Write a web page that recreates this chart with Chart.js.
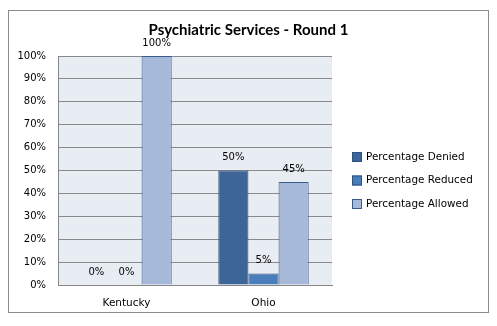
<!DOCTYPE html>
<html>
<head>
<meta charset="utf-8">
<script src="https://cdn.jsdelivr.net/npm/chart.js@4/dist/chart.umd.min.js"></script>
<style>
html,body{margin:0;padding:0;background:#fff;}
#frame{position:absolute;left:8px;top:10px;width:481px;height:303px;border:1px solid #8a8a8a;box-sizing:border-box;}
#chart{position:absolute;left:0;top:0;}
</style>
</head>
<body>
<div id="frame"><canvas id="chart" width="479" height="301"></canvas></div>
<script>
// data
const states = ["Kentucky", "Ohio"]
const denied = [0, 50]
const reduced = [0, 5]
const allowed = [100, 45]
const yTicks = [0, 10, 20, 30, 40, 50, 60, 70, 80, 90, 100]

const TXT = "DejaVu Sans"

// light panel behind the bars
const plotBg = {
  id: "plotBg",
  beforeDraw(chart){
    let a = chart.chartArea
    let ctx = chart.ctx
    ctx.save()
    ctx.fillStyle = "#e8ecf3"
    ctx.fillRect(a.left, a.top, a.right - a.left, a.bottom - a.top)
    ctx.restore()
  }
}

// value text above each bar
const barValues = {
  id: "barValues",
  afterDatasetsDraw(chart){
    let ctx = chart.ctx
    ctx.save()
    ctx.font = "10px " + TXT
    ctx.fillStyle = "#000"
    ctx.textAlign = "center"
    ctx.textBaseline = "middle"
    chart.data.datasets.forEach((ds, i) => {
      chart.getDatasetMeta(i).data.forEach((bar, j) => {
        ctx.fillText(ds.data[j] + "%", bar.x, bar.y - 13)
      })
    })
    ctx.restore()
  }
}

// legend on the right, one row per dataset
const sideLegend = {
  id: "sideLegend",
  afterDraw(chart){
    let a = chart.chartArea
    let ctx = chart.ctx
    let step = 23.5
    let x = a.right + 20
    let y = (a.top + a.bottom) / 2 + 10 - step
    ctx.save()
    ctx.font = "10.4px " + TXT
    ctx.textBaseline = "middle"
    ctx.textAlign = "left"
    chart.data.datasets.forEach((ds, i) => {
      let cy = y + i * step
      ctx.fillStyle = ds.backgroundColor
      ctx.fillRect(x, cy - 5, 10, 10)
      ctx.strokeStyle = ds.borderColor
      ctx.lineWidth = 1
      ctx.strokeRect(x + 0.5, cy - 4.5, 9, 9)
      ctx.fillStyle = "#000"
      ctx.fillText(ds.label, x + 14, cy)
    })
    ctx.restore()
  }
}

new Chart(document.getElementById("chart"), {
  type: "bar",
  data: {
    labels: states,
    datasets: [
      {label: "Percentage Denied", data: denied, backgroundColor: "#3d6597", borderColor: "#2f4f7c", borderWidth: 1},
      {label: "Percentage Reduced", data: reduced, backgroundColor: "#4a7ebb", borderColor: "#2f4f7c", borderWidth: 1},
      {label: "Percentage Allowed", data: allowed, backgroundColor: "#a7b9d9", borderColor: "#3b5b8c", borderWidth: 1}
    ]
  },
  options: {
    responsive: false,
    animation: false,
    categoryPercentage: 0.66,
    barPercentage: 1,
    layout: {padding: {left: 0, right: 0, top: 0, bottom: 4}},
    scales: {
      x: {
        grid: {display: false, drawTicks: false},
        border: {display: true, color: "#868686"},
        ticks: {font: {family: TXT, size: 10.5}, color: "#000", padding: 12},
        afterFit(s){ s.height = 23 }
      },
      y: {
        min: 0, max: 100,
        afterBuildTicks(s){ s.ticks = yTicks.map(v => ({value: v})) },
        grid: {color: "#8a8a8a", drawTicks: false},
        border: {display: true, color: "#868686"},
        ticks: {font: {family: TXT, size: 10}, color: "#000", padding: 12, callback: v => v + "%"},
        afterFit(s){ s.width = 49 }
      },
      // empty strip on the right that holds the legend
      side: {
        type: "linear", position: "right", display: true,
        grid: {display: false}, border: {display: false}, ticks: {display: false},
        afterFit(s){ s.width = 156 }
      }
    },
    plugins: {
      title: {
        display: true,
        text: "Psychiatric Services - Round 1",
        font: {family: "Lato", size: 15, weight: "bold"},
        color: "#000",
        padding: {top: 10, bottom: 17}
      },
      legend: {display: false},
      tooltip: {enabled: false}
    }
  },
  plugins: [plotBg, barValues, sideLegend]
})
</script>
</body>
</html>
